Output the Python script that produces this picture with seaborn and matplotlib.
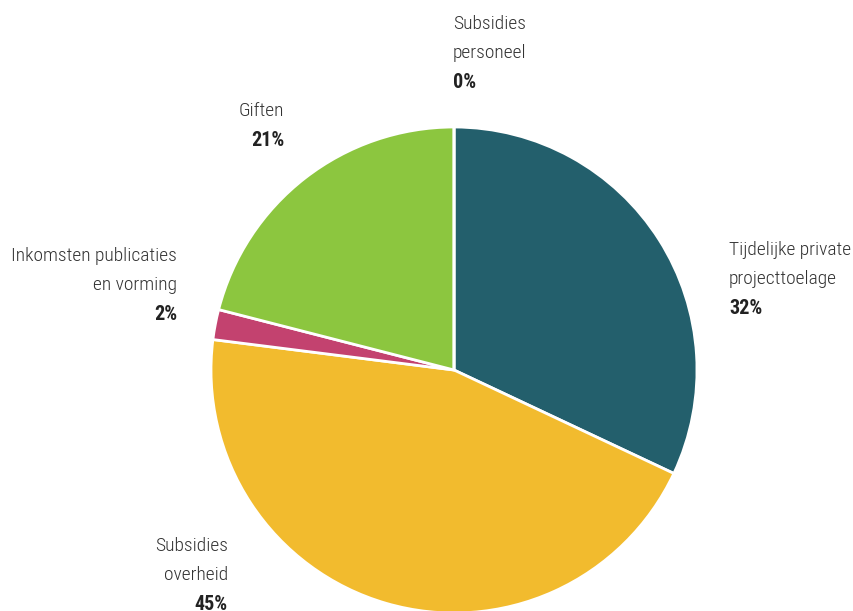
import matplotlib
matplotlib.use("Agg")
import matplotlib.pyplot as plt
from matplotlib import font_manager
import seaborn as sns

# Revenue split (percent), clockwise from 12 o'clock
categories = [
    "Tijdelijke private\nprojecttoelage",
    "Subsidies\noverheid",
    "Inkomsten publicaties\nen vorming",
    "Giften",
    "Subsidies\npersoneel",
]
values = [32, 45, 2, 21, 0]
colors = ["#235f6c", "#f2bb2e", "#c3426f", "#8cc63f", "#8cc63f"]

sns.set_theme(style="white")

available = {f.name for f in font_manager.fontManager.ttflist}
narrow = [n for n in ["Liberation Sans Narrow", "DejaVu Sans Condensed",
                      "Roboto Condensed", "Open Sans Condensed"] if n in available]
family = narrow[0] if narrow else "DejaVu Sans"
plt.rcParams["font.family"] = [family, "DejaVu Sans"]

W, H = 854, 611
cx, cy, R = 454, 370, 243

fig = plt.figure(figsize=(W / 100, H / 100), dpi=100)
ax = fig.add_axes([0, 0, 1, 1])
ax.set_aspect("equal")
ax.axis("off")

ax.pie(values, colors=colors, startangle=90, counterclock=False, radius=R,
       wedgeprops=dict(edgecolor="white", linewidth=2), frame=False)
ax.set_xlim(-cx, W - cx)
ax.set_ylim(-(H - cy), cy)

# label anchors: (x, y of first line, alignment)
anchors = [
    (729, 250, "left"),
    (228, 546, "right"),
    (177, 256, "right"),
    (284, 111, "right"),
    (453, 24, "left"),
]
line_gap = 29
txt_color = "#333333"
fs = 14

for cat, val, (px, py, ha) in zip(categories, values, anchors):
    lines = cat.split("\n")
    for i, line in enumerate(lines):
        ax.text(px - cx, cy - (py + i * line_gap), line, ha=ha, va="center",
                fontsize=fs, color=txt_color, fontweight="light",
                fontstretch="condensed")
    ax.text(px - cx, cy - (py + len(lines) * line_gap), f"{val}%", ha=ha,
            va="center", fontsize=fs + 0.5, color="#222222", fontweight="bold",
            fontstretch="condensed")

fig.savefig("out.png", dpi=100, facecolor="white")
